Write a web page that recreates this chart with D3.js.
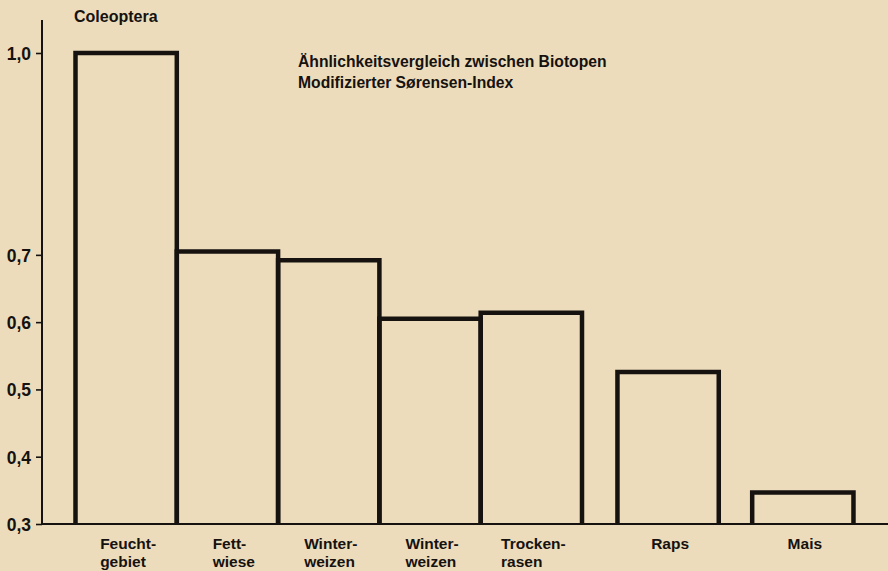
<!DOCTYPE html>
<html>
<head>
<meta charset="utf-8">
<script src="https://cdn.jsdelivr.net/npm/d3@7"></script>
<style>
  html, body { margin: 0; padding: 0; background: #eddcbb; }
  svg { display: block; }
  text { font-family: "Liberation Sans", Arial, Helvetica, sans-serif; font-weight: bold; fill: #151210; }
</style>
</head>
<body>
<svg id="chart" width="888" height="571"></svg>
<script>
// ---- data ----
const categories = [
  ["Feucht-", "gebiet"],
  ["Fett-", "wiese"],
  ["Winter-", "weizen"],
  ["Winter-", "weizen"],
  ["Trocken-", "rasen"],
  ["Raps"],
  ["Mais"]
];
const values = [1.0, 0.705, 0.692, 0.605, 0.614, 0.526, 0.347];
// slot positions along the x axis (bars 1-5 adjoin, Raps and Mais stand apart)
const slots = [0, 1, 2, 3, 4, 5.35, 6.68];
const tickValues = [0.3, 0.4, 0.5, 0.6, 0.7, 1.0];
const tickLabels = ["0,3", "0,4", "0,5", "0,6", "0,7", "1,0"];
const yLabel = "Coleoptera";
const titleLines = ["Ähnlichkeitsvergleich zwischen Biotopen", "Modifizierter Sørensen-Index"];

// ---- drawing ----
const svg = d3.select("#chart");
const ink = "#151210";

const y = d3.scaleLinear().domain([0.3, 1.0]).range([524, 53]);
const x = d3.scaleLinear().domain([0, 7]).range([75.5, 75.5 + 7 * 101.3]);

// bars (open rectangles standing on the baseline)
svg.append("g").selectAll("path")
  .data(values)
  .join("path")
  .attr("d", (d, i) => {
    const x0 = x(slots[i]), x1 = x(slots[i] + 1);
    return `M${x0},${y(0.3)}V${y(d)}H${x1}V${y(0.3)}`;
  })
  .attr("fill", "none")
  .attr("stroke", ink)
  .attr("stroke-width", 4.5)
  .attr("stroke-linejoin", "miter");

// y axis
const yAxis = d3.axisLeft(y)
  .tickValues(tickValues)
  .tickFormat((d, i) => tickLabels[i])
  .tickSize(6)
  .tickSizeOuter(0)
  .tickPadding(5);
const gy = svg.append("g").attr("transform", "translate(42,0)").call(yAxis);
gy.attr("font-size", null).attr("font-family", null);
gy.select(".domain").remove();
gy.selectAll(".tick line").attr("stroke", ink).attr("stroke-width", 1.6);
gy.selectAll(".tick text")
  .attr("font-size", 17.5)
  .attr("dy", "0.36em")
  .attr("font-weight", "bold")
  .attr("fill", ink);
// axis spine extends above 1,0
svg.append("line")
  .attr("x1", 42).attr("x2", 42)
  .attr("y1", 20).attr("y2", y(0.3) + 1)
  .attr("stroke", ink).attr("stroke-width", 2);

// baseline
svg.append("line")
  .attr("x1", 41).attr("x2", 888)
  .attr("y1", y(0.3)).attr("y2", y(0.3))
  .attr("stroke", ink).attr("stroke-width", 2.2);

// y label
svg.append("text")
  .attr("x", 74).attr("y", 22)
  .attr("font-size", 16)
  .text(yLabel);

// title
svg.append("text")
  .attr("x", 298).attr("y", 67)
  .attr("font-size", 15.7)
  .text(titleLines[0]);
svg.append("text")
  .attr("x", 298).attr("y", 88)
  .attr("font-size", 15.7)
  .text(titleLines[1]);

// category labels: first line centred on bar, second line aligned with first
const lab = svg.append("g");
categories.forEach((lines, i) => {
  const cx = (x(slots[i]) + x(slots[i] + 1)) / 2 + 2;
  const t = lab.append("text").attr("font-size", 15.5);
  const first = t.append("tspan").attr("y", 549).text(lines[0]);
  const w = first.node().getComputedTextLength();
  const sx = cx - w / 2;
  first.attr("x", sx);
  if (lines[1]) {
    t.append("tspan").attr("x", sx).attr("y", 567).text(lines[1]);
  }
});
</script>
</body>
</html>
